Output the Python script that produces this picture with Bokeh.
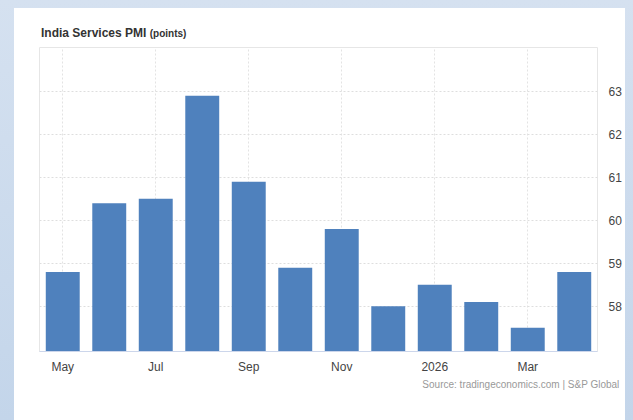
from bokeh.plotting import figure
from bokeh.models import ColumnDataSource, Range1d, FixedTicker, Title, Div
from bokeh.layouts import column
from bokeh.embed import file_html
from bokeh.resources import INLINE

months = ["May", "Jun", "Jul", "Aug", "Sep", "Oct", "Nov", "Dec", "Jan", "Feb", "Mar", "Apr"]
values = [58.8, 60.4, 60.5, 62.9, 60.9, 58.9, 59.8, 58.0, 58.5, 58.1, 57.5, 58.8]
tick_idx = [0, 2, 4, 6, 8, 10]
tick_labels = ["May", "Jul", "Sep", "Nov", "2026", "Mar"]
y_ticks = [58, 59, 60, 61, 62, 63]

src = ColumnDataSource(dict(x=list(range(len(months))), top=values, month=months))

p = figure(width=611, height=381, output_backend="svg", toolbar_location=None,
           x_range=Range1d(-0.5, 11.5), y_range=Range1d(56.95, 64.02),
           y_axis_location="right", min_border_left=25, min_border_right=28,
           min_border_top=8, min_border_bottom=69)
p.vbar(x="x", top="top", bottom=56.95, width=0.73, source=src,
       fill_color="#4f81bd", line_color=None)

p.background_fill_color = "white"
p.border_fill_color = "white"
p.outline_line_color = "#e6e6e6"

p.xaxis.ticker = FixedTicker(ticks=tick_idx)
p.xaxis.major_label_overrides = {i: l for i, l in zip(tick_idx, tick_labels)}
p.xaxis.major_tick_line_color = None
p.xaxis.minor_tick_line_color = None
p.xaxis.axis_line_color = "#ccd6eb"
p.xaxis.major_label_standoff = 2
p.xaxis.major_label_text_font = "Liberation Sans"
p.xaxis.major_label_text_font_size = "12px"
p.xaxis.major_label_text_color = "#444444"

p.yaxis.ticker = FixedTicker(ticks=y_ticks)
p.yaxis.major_tick_line_color = None
p.yaxis.minor_tick_line_color = None
p.yaxis.axis_line_color = None
p.yaxis.major_label_standoff = 5
p.yaxis.major_label_text_font = "Liberation Sans"
p.yaxis.major_label_text_font_size = "12px"
p.yaxis.major_label_text_color = "#444444"

p.xgrid.grid_line_color = "#e3e3e3"
p.xgrid.grid_line_dash = "2 2"
p.ygrid.grid_line_color = "#dedede"
p.ygrid.grid_line_dash = "2 2"

p.add_layout(Title(text="Source: tradingeconomics.com | S&P Global",
                   align="right", offset=-22, standoff=1,
                   text_font="Liberation Sans", text_font_size="10px",
                   text_font_style="normal", text_color="#999999"), "below")

title = Div(text='<div style="padding:18px 0 0 27px; line-height:14px">India Services PMI '
                 '<span style="font-size:10px">(points)</span></div>',
            width=611, height=31, margin=0,
            styles={"font-family": "Liberation Sans", "font-weight": "bold",
                    "font-size": "12px", "color": "#333333",
                    "overflow": "hidden", "background": "white"})

card = column(title, p, width=611, height=412, spacing=0,
              styles={"background": "white"})
card.margin = (8, 8, 0, 14)
layout = column(card, width=633, height=420,
                styles={"background": "linear-gradient(to bottom, #d5e1f0, #c3d5ea)"})

open("out.html", "w").write(file_html(layout, INLINE))
